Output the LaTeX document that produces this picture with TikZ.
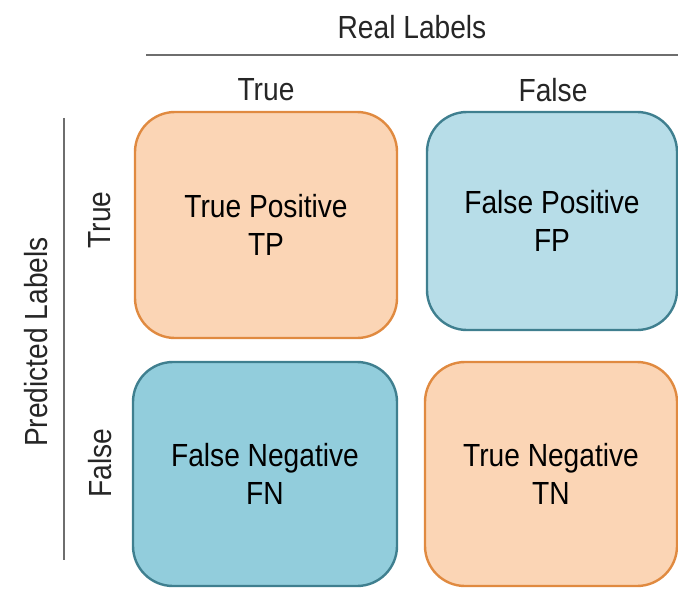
\documentclass[tikz,border=0pt]{standalone}
\usepackage{fontspec}
\setmainfont{Liberation Sans}[FakeStretch=0.88]
\definecolor{peachfill}{HTML}{FBD5B5}
\definecolor{peachline}{HTML}{E08A40}
\definecolor{paleblue}{HTML}{B7DDE8}
\definecolor{midblue}{HTML}{92CDDC}
\definecolor{tealline}{HTML}{3F7F8F}
\definecolor{rulegray}{HTML}{6E6E6E}
\tikzset{
  cell/.style={rounded corners=20pt, line width=1.2pt, align=center,
    minimum width=130pt, minimum height=112pt, inner sep=0pt},
  hit/.style={cell, draw=peachline, fill=peachfill},
  missa/.style={cell, draw=tealline, fill=paleblue},
  missb/.style={cell, draw=tealline, fill=midblue},
  head/.style={font=\fontsize{16}{19}\selectfont, text=black!85},
  rule/.style={draw=rulegray, line width=1pt}
}
\begin{document}
\begin{tikzpicture}[x=0.5pt,y=-0.5pt, every node/.style={font=\fontsize{16}{19}\selectfont}]
	\useasboundingbox (0,0) rectangle (678,588);
	% headers
	\node[head] (real) at (412,27){Real Labels};
	\coordinate (rl) at (146,55);
	\coordinate (rr) at (678,55);
	\draw[rule] (rl) -- (rr);
	\node[head] (coltrue) at (266,90){True};
	\node[head] (colfalse) at (553,90){False};
	\node[head, rotate=90] (pred) at (36,342){Predicted Labels};
	\coordinate (pt) at (64,118);
	\coordinate (pb) at (64,560);
	\draw[rule] (pt) -- (pb);
	\node[head, rotate=90] (rowtrue) at (100,220){True};
	\node[head, rotate=90] (rowfalse) at (100,463){False};
	% cells
	\node[hit, minimum width=131pt, minimum height=113pt] (tp) at (266,225){True Positive\\TP};
	\node[missa, minimum width=125pt, minimum height=109pt] (fp) at (552,221){False Positive\\FP};
	\node[missb, minimum width=132pt] (fn) at (265,474){False Negative\\FN};
	\node[hit, minimum width=126pt] (tn) at (551,474){True Negative\\TN};
\end{tikzpicture}
\end{document}
